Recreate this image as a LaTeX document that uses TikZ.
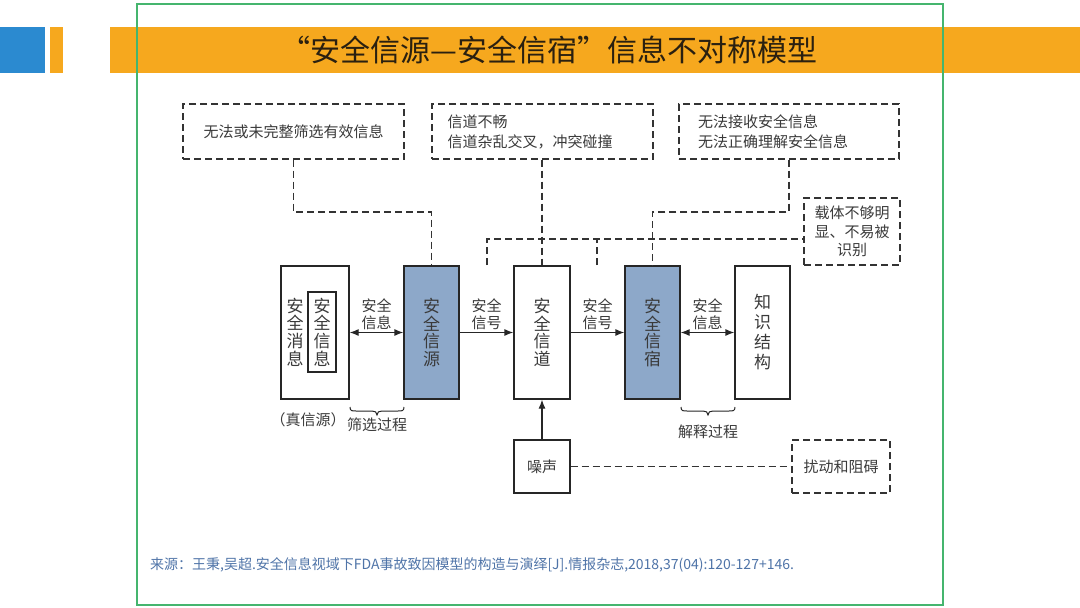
\documentclass[tikz,border=0pt]{standalone}
\usepackage{fontspec}
\setmainfont{Noto Sans CJK SC}
\usetikzlibrary{arrows.meta,calc}
\definecolor{orangeband}{HTML}{F6A81E}
\definecolor{bluesq}{HTML}{2B8AD0}
\definecolor{framegreen}{HTML}{45B56E}
\definecolor{boxblue}{HTML}{8DA8C9}
\definecolor{txt}{HTML}{3A3A3A}
\definecolor{citecol}{HTML}{4F74A8}
\definecolor{titlecol}{HTML}{2A2010}
\begin{document}
\begin{tikzpicture}[x=1pt,y=-1pt,
  every node/.style={text=txt},
  solidbox/.style={draw=black!85, line width=1.2pt, inner sep=0pt, align=center, font=\fontsize{17}{17.7}\selectfont},
  bluebox/.style={solidbox, fill=boxblue},
  dashbox/.style={draw=black!80, line width=1.4pt, dash pattern=on 7pt off 4pt, inner sep=0pt, font=\fontsize{15}{20}\selectfont},
  dashline/.style={draw=black!80, line width=1.5pt, dash pattern=on 7pt off 4pt},
  arr/.style={draw=black!85, line width=1.2pt, -{Latex[length=9pt,width=7pt]}},
  biarr/.style={draw=black!85, line width=1.2pt, {Latex[length=9pt,width=7pt]}-{Latex[length=9pt,width=7pt]}},
  lbl/.style={align=center, font=\fontsize{15}{17}\selectfont, inner sep=2pt},
  bracestyle/.style={draw=black!85, line width=1pt}
]
\useasboundingbox (0,0) rectangle (1080,608);
\fill[white] (0,0) rectangle (1080,608);
% header
\fill[bluesq] (0,27) rectangle (45,73);
\fill[orangeband] (50,27) rectangle (63,73);
\fill[orangeband] (110,27) rectangle (1080,73);
\node[font=\fontsize{30}{34}\selectfont, text=titlecol] (title) at (549,50) {“安全信源—安全信宿”信息不对称模型};

% main boxes
\node[solidbox, minimum width=68pt, minimum height=133pt] (msg) at (315,332.5) {};
\node[font=\fontsize{17}{17.7}\selectfont, align=center, inner sep=0pt] (msgtxt) at (295,332) {安\\全\\消\\息};
\node[solidbox, minimum width=28pt, minimum height=80pt] (info) at (322,332) {安\\全\\信\\息};
\node[bluebox, minimum width=55pt, minimum height=133pt] (src) at (431.5,332.5) {安\\全\\信\\源};
\node[solidbox, minimum width=56pt, minimum height=133pt] (chan) at (542,332.5) {安\\全\\信\\道};
\node[bluebox, minimum width=55pt, minimum height=133pt] (sink) at (652.5,332.5) {安\\全\\信\\宿};
\node[solidbox, minimum width=55pt, minimum height=133pt, font=\fontsize{17}{20}\selectfont] (know) at (762.5,332.5) {知\\识\\结\\构};
\node[solidbox, minimum width=56pt, minimum height=53pt, font=\fontsize{15}{17}\selectfont] (noise) at (542,466.5) {噪声};

% dashed boxes
\node[dashbox, minimum width=221pt, minimum height=55pt] (top1) at (293.5,131.5) {无法或未完整筛选有效信息};
\node[dashbox, minimum width=221pt, minimum height=55pt, text width=190pt, align=left] (top2) at (542.5,131.5) {信道不畅\\信道杂乱交叉，冲突碰撞};
\node[dashbox, minimum width=220pt, minimum height=55pt, text width=182pt, align=left] (top3) at (789,131.5) {无法接收安全信息\\无法正确理解安全信息};
\node[dashbox, minimum width=96pt, minimum height=67pt, align=center, font=\fontsize{15}{18.5}\selectfont] (carrier) at (852,231.5) {载体不够明\\显、不易被\\识别};
\node[dashbox, minimum width=98pt, minimum height=53pt] (disturb) at (841,466.5) {扰动和阻碍};

% dashed connectors
\coordinate (j1) at (0,212);
\coordinate (h) at (0,239);
\coordinate (s1) at (487,265);
\coordinate (s2) at (597,265);
\draw[dashline] (top1.south) |- (src.north |- j1) -- (src.north);
\draw[dashline] (chan.north |- top2.south) -- (chan.north);
\draw[dashline] (top3.south) |- (sink.north |- j1) -- (sink.north);
\draw[dashline] (s1) -- (s1 |- h) -- (carrier.west |- h);
\draw[dashline] (s2) -- (s2 |- h);
\draw[dashline] (noise.east) -- (disturb.west);

% arrows
\draw[biarr] (msg.east) -- (src.west) node[midway, above, lbl] (l1) {安全\\信息};
\draw[arr] (src.east) -- (chan.west) node[midway, above, lbl] (l2) {安全\\信号};
\draw[arr] (chan.east) -- (sink.west) node[midway, above, lbl] (l3) {安全\\信号};
\draw[biarr] (sink.east) -- (know.west) node[midway, above, lbl] (l4) {安全\\信息};
\draw[arr] (noise.north) -- (chan.south);

% braces (drawn as shapes, tip pointing down)
\draw[bracestyle] (350,407) .. controls (350,411) and (352,411) .. (356,411) -- (372,411)
  .. controls (375,411) and (377,412) .. (377,415) .. controls (377,412) and (379,411) .. (382,411)
  -- (398,411) .. controls (402,411) and (404,411) .. (404,407);
\draw[bracestyle] (681,407) .. controls (681,411) and (683,411) .. (687,411) -- (703,411)
  .. controls (706,411) and (708,412) .. (708,415) .. controls (708,412) and (710,411) .. (713,411)
  -- (729,411) .. controls (733,411) and (735,411) .. (735,407);
\node[font=\fontsize{15}{17}\selectfont] (truesrc) at (308,420) {（真信源）};
\node[font=\fontsize{15}{17}\selectfont] (filt) at (377,425) {筛选过程};
\node[font=\fontsize{15}{17}\selectfont] (interp) at (708,432) {解释过程};

% citation
\node[anchor=west, text=citecol, font=\fontsize{14}{16}\selectfont, inner sep=0pt] (cite) at (150,565) {来源：王秉,吴超.安全信息视域下FDA事故致因模型的构造与演绎[J].情报杂志,2018,37(04):120-127+146.};

% green frame
\draw[framegreen, line width=2pt] (137,4) rectangle (943,605);
\end{tikzpicture}
\end{document}
